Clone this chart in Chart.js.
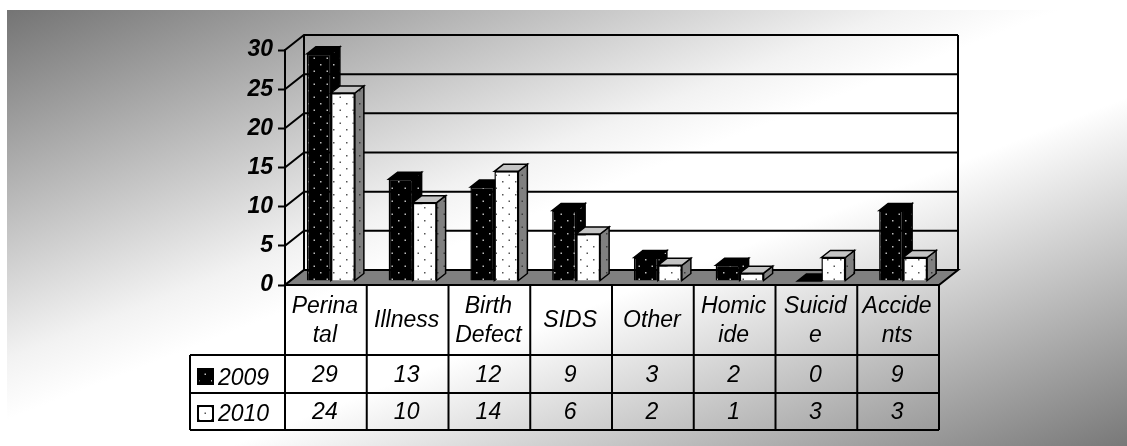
<!DOCTYPE html>
<html>
<head>
<meta charset="utf-8">
<style>
    html, body { margin: 0; padding: 0; background: #ffffff; overflow: hidden; }
    #bg { position: absolute; left: 7px; top: 10px; right: 0; bottom: 0; background: linear-gradient(to bottom right, #747474, #f2f2f2 40%, #ffffff 47%, #ffffff 60%, #787878); }
    #chart { position: absolute; left: 0; top: 0; }
</style>
</head>
<body>
<div id="bg"></div>
<canvas id="chart" width="1127" height="446"></canvas>
<script src="https://cdn.jsdelivr.net/npm/chart.js@4"></script>
<script>
// Data
const categories = [['Perina', 'tal'], ['Illness'], ['Birth', 'Defect'], ['SIDS'], ['Other'], ['Homic', 'ide'], ['Suicid', 'e'], ['Accide', 'nts']];
const seriesNames = ['2009', '2010'];
const values2009 = [29, 13, 12, 9, 3, 2, 0, 9];
const values2010 = [24, 10, 14, 6, 2, 1, 3, 3];
const yTicks = [0, 5, 10, 15, 20, 25, 30];

const FONT = '"Liberation Sans", Arial, sans-serif';

// Depth of the fake 3D box and of the bars inside it
const wallDX = 19, wallDY = 15;
const barDX = 9, barDY = 7;
const barShiftX = 5, barShiftY = 4;

// Table rows below the plot
const rowLines = [355, 393, 430];
const tableLeft = 190;

function dotPattern(bg, dot) {
    const tile = document.createElement('canvas');
    tile.width = 13;
    tile.height = 13;
    const c = tile.getContext('2d');
    c.fillStyle = bg;
    c.fillRect(0, 0, 13, 13);
    c.fillStyle = dot;
    c.fillRect(3, 3, 1.5, 1.5);
    c.fillRect(9.5, 9.5, 1.5, 1.5);
    return document.getElementById('chart').getContext('2d').createPattern(tile, 'repeat');
}

const blackDots = dotPattern('#000000', '#bbbbbb');
const whiteDots = dotPattern('#ffffff', '#555555');
const greyDots = dotPattern('#808080', '#3a3a3a');

function poly(ctx, pts, fill) {
    ctx.beginPath();
    pts.forEach((p, i) => i ? ctx.lineTo(p[0], p[1]) : ctx.moveTo(p[0], p[1]));
    ctx.closePath();
    ctx.fillStyle = fill;
    ctx.fill();
    ctx.stroke();
}

const boxPlugin = {
    id: 'box',
    // Back wall, gridlines and floor, then the bars standing in the middle of the floor
    beforeDatasetsDraw(chart) {
        const { ctx, chartArea: a, scales: { y } } = chart;
        ctx.save();
        ctx.strokeStyle = '#000000';
        ctx.lineWidth = 2;
        yTicks.forEach(t => {
            const py = y.getPixelForValue(t);
            ctx.beginPath();
            ctx.moveTo(a.left, py);
            ctx.lineTo(a.left + wallDX, py - wallDY);
            ctx.lineTo(a.right + wallDX, py - wallDY);
            ctx.stroke();
        });
        ctx.beginPath();
        ctx.moveTo(a.left + wallDX, a.bottom - wallDY);
        ctx.lineTo(a.left + wallDX, a.top - wallDY);
        ctx.moveTo(a.right + wallDX, a.top - wallDY);
        ctx.lineTo(a.right + wallDX, a.bottom - wallDY);
        ctx.stroke();
        poly(ctx, [[a.left, a.bottom], [a.left + wallDX, a.bottom - wallDY], [a.right + wallDX, a.bottom - wallDY], [a.right, a.bottom]], '#808080');
        ctx.restore();

        // 2009 has to go first, its side face sits behind the 2010 bar
        [0, 1].forEach(i => {
            const meta = chart.getDatasetMeta(i);
            const isDark = i === 0;
            ctx.save();
            ctx.translate(barShiftX, -barShiftY);
            ctx.strokeStyle = '#000000';
            ctx.lineWidth = 1.5;
            meta.data.forEach(bar => {
                const l = bar.x - bar.width / 2, r = bar.x + bar.width / 2;
                poly(ctx, [[r, bar.y], [r + barDX, bar.y - barDY], [r + barDX, bar.base - barDY], [r, bar.base]], isDark ? blackDots : greyDots);
                poly(ctx, [[l, bar.y], [l + barDX, bar.y - barDY], [r + barDX, bar.y - barDY], [r, bar.y]], isDark ? '#000000' : '#c4c4c4');
            });
            meta.controller.draw();
            ctx.restore();
        });
    },
    beforeDatasetDraw() {
        return false;
    },
    // Data table with category names, values and legend keys
    afterDraw(chart) {
        const { ctx, chartArea: a, scales: { x } } = chart;
        const band = (a.right - a.left) / categories.length;
        ctx.save();
        ctx.strokeStyle = '#000000';
        ctx.lineWidth = 2;
        ctx.beginPath();
        for (let i = 0; i <= categories.length; i++) {
            ctx.moveTo(a.left + i * band, a.bottom);
            ctx.lineTo(a.left + i * band, rowLines[2]);
        }
        rowLines.forEach(py => {
            ctx.moveTo(tableLeft, py);
            ctx.lineTo(a.right, py);
        });
        ctx.moveTo(tableLeft, rowLines[0]);
        ctx.lineTo(tableLeft, rowLines[2]);
        ctx.stroke();

        ctx.fillStyle = '#000000';
        ctx.textAlign = 'center';
        ctx.textBaseline = 'alphabetic';
        ctx.font = 'italic 23px ' + FONT;
        categories.forEach((lines, i) => {
            const px = x.getPixelForValue(i) - 1;
            if (lines.length === 1) {
                ctx.fillText(lines[0], px, 327);
            } else {
                ctx.fillText(lines[0], px, 313);
                ctx.fillText(lines[1], px, 342);
            }
            ctx.fillText(String(values2009[i]), px, 382);
            ctx.fillText(String(values2010[i]), px, 419);
        });

        ctx.textAlign = 'left';
        ctx.fillText(seriesNames[0], 218, 385);
        ctx.fillText(seriesNames[1], 218, 421);

        ctx.fillStyle = blackDots;
        ctx.fillRect(198, 369, 15, 15);
        ctx.strokeRect(198, 369, 15, 15);
        ctx.fillStyle = whiteDots;
        ctx.fillRect(198, 406, 15, 15);
        ctx.strokeRect(198, 406, 15, 15);
        ctx.restore();
    }
};

new Chart(document.getElementById('chart'), {
    type: 'bar',
    data: {
        labels: categories,
        datasets: [
            { label: seriesNames[0], data: values2009, backgroundColor: blackDots, borderColor: '#000000', borderWidth: 1.5 },
            { label: seriesNames[1], data: values2010, backgroundColor: whiteDots, borderColor: '#000000', borderWidth: 1.5 }
        ]
    },
    options: {
        responsive: false,
        animation: false,
        layout: { padding: { left: 0, top: 50, right: 188, bottom: 0 } },
        datasets: { bar: { categoryPercentage: 0.587, barPercentage: 1 } },
        plugins: { legend: { display: false }, tooltip: { enabled: false } },
        scales: {
            x: {
                grid: { display: false },
                border: { display: false },
                ticks: { display: false },
                afterFit(scale) { scale.height = 161; }
            },
            y: {
                min: 0,
                max: 30,
                afterBuildTicks(scale) { scale.ticks = yTicks.map(v => ({ value: v })); },
                afterFit(scale) { scale.width = 285; },
                grid: { drawOnChartArea: false, tickLength: 7, tickColor: '#000000', tickWidth: 2 },
                border: { display: true, color: '#000000', width: 2 },
                ticks: {
                    color: '#000000',
                    padding: 5,
                    font: { family: FONT, size: 23, style: 'italic', weight: 'bold' }
                }
            }
        }
    },
    plugins: [boxPlugin]
});
</script>
</body>
</html>
